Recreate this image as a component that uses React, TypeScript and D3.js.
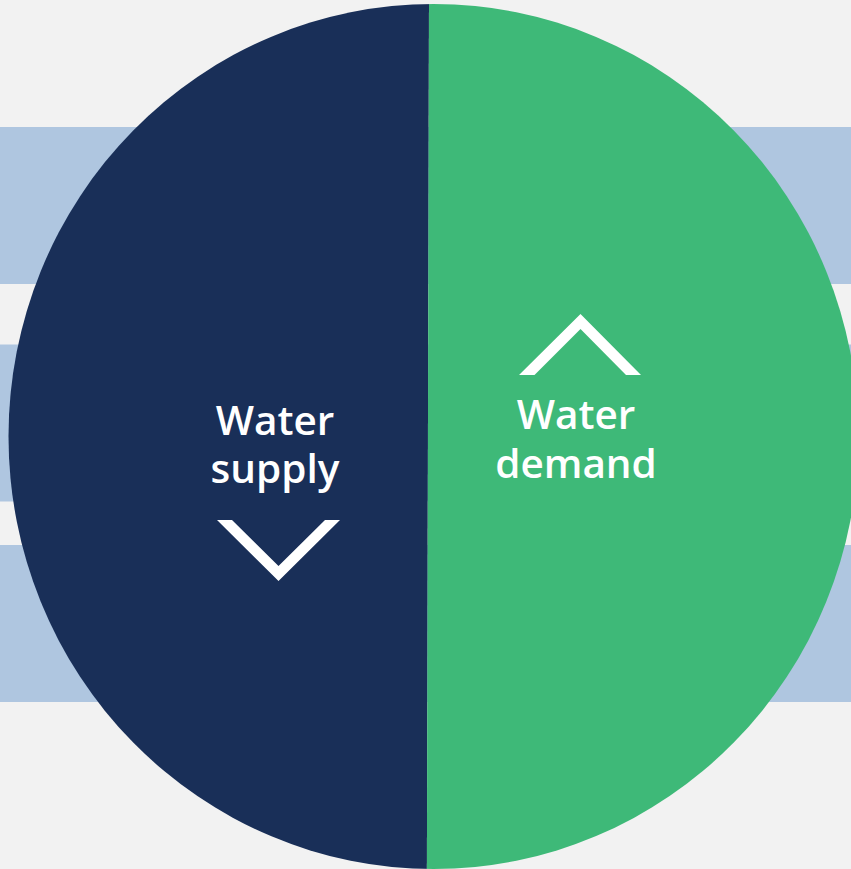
import React from "react";
import * as d3 from "d3";

// ---- data ----
const categories = ["Water supply", "Water demand"];
const labelLines = [["Water", "supply"], ["Water", "demand"]];
const directions = ["down", "up"];
const shares = [49.4, 50.6]; // horizontal share of the disc (%)
const bandIndex = [0, 1, 2];

// ---- layout ----
const W = 851;
const H = 869;
const BG = "#f2f2f2";
const BAND = "#afc6e0";
const COLORS = ["#192f58", "#3eb978"];
const CX = 433.5;
const CY = 436.5;
const RX = 425;
const RY = 432.5;

export default function App() {
  const x = d3.scaleLinear().domain([0, 100]).range([CX - RX, CX + RX]);
  const bandY = d3.scaleLinear().domain([0, 1]).range([127, 344.5]);
  const bandH = 157;
  const splitTop = x(shares[0]) + 0.6;
  const splitBot = x(shares[0]) - 1.5;

  const leftPoly = [
    [0, 0],
    [splitTop, 0],
    [splitBot, H],
    [0, H],
  ];
  const rightPoly = [
    [splitTop, 0],
    [W + 20, 0],
    [W + 20, H],
    [splitBot, H],
  ];
  const line = d3.line();

  const textX = [275, 576];
  const baseY = [434.5, 429];
  const lineGap = 48.5;
  const chevronDown = [
    [217, 520],
    [232, 520],
    [278.5, 566],
    [325, 520],
    [340, 520],
    [278.5, 581],
  ];
  const chevronUp = [
    [519, 375],
    [534.5, 375],
    [580.5, 329],
    [626, 375],
    [641, 375],
    [580.5, 314],
  ];

  return (
    <svg
      width={W}
      height={H}
      style={{ position: "fixed", left: 0, top: 0, display: "block" }}
    >
      <rect x={0} y={0} width={W} height={H} fill={BG} />
      {bandIndex.map((i) => (
        <rect
          key={i}
          x={0}
          y={i === 2 ? 545 : bandY(i)}
          width={W}
          height={bandH}
          fill={BAND}
        />
      ))}
      <defs>
        <clipPath id="disc">
          <ellipse cx={CX} cy={CY} rx={RX} ry={RY} />
        </clipPath>
      </defs>
      <g clipPath="url(#disc)">
        <path d={line(leftPoly as any) + "Z"} fill={COLORS[0]} />
        <path d={line(rightPoly as any) + "Z"} fill={COLORS[1]} />
      </g>
      {categories.map((c, i) => (
        <text
          key={c}
          x={textX[i]}
          y={baseY[i]}
          fill="#ffffff"
          textAnchor="middle"
          fontFamily="'Open Sans', 'Noto Sans', sans-serif"
          fontWeight={600}
          fontSize={40.5}
        >
          {labelLines[i].map((l, j) => (
            <tspan key={j} x={textX[i]} y={baseY[i] + j * lineGap}>
              {l}
            </tspan>
          ))}
        </text>
      ))}
      {directions.map((d, i) => (
        <path
          key={d}
          d={line((d === "down" ? chevronDown : chevronUp) as any) + "Z"}
          fill="#ffffff"
        />
      ))}
    </svg>
  );
}
